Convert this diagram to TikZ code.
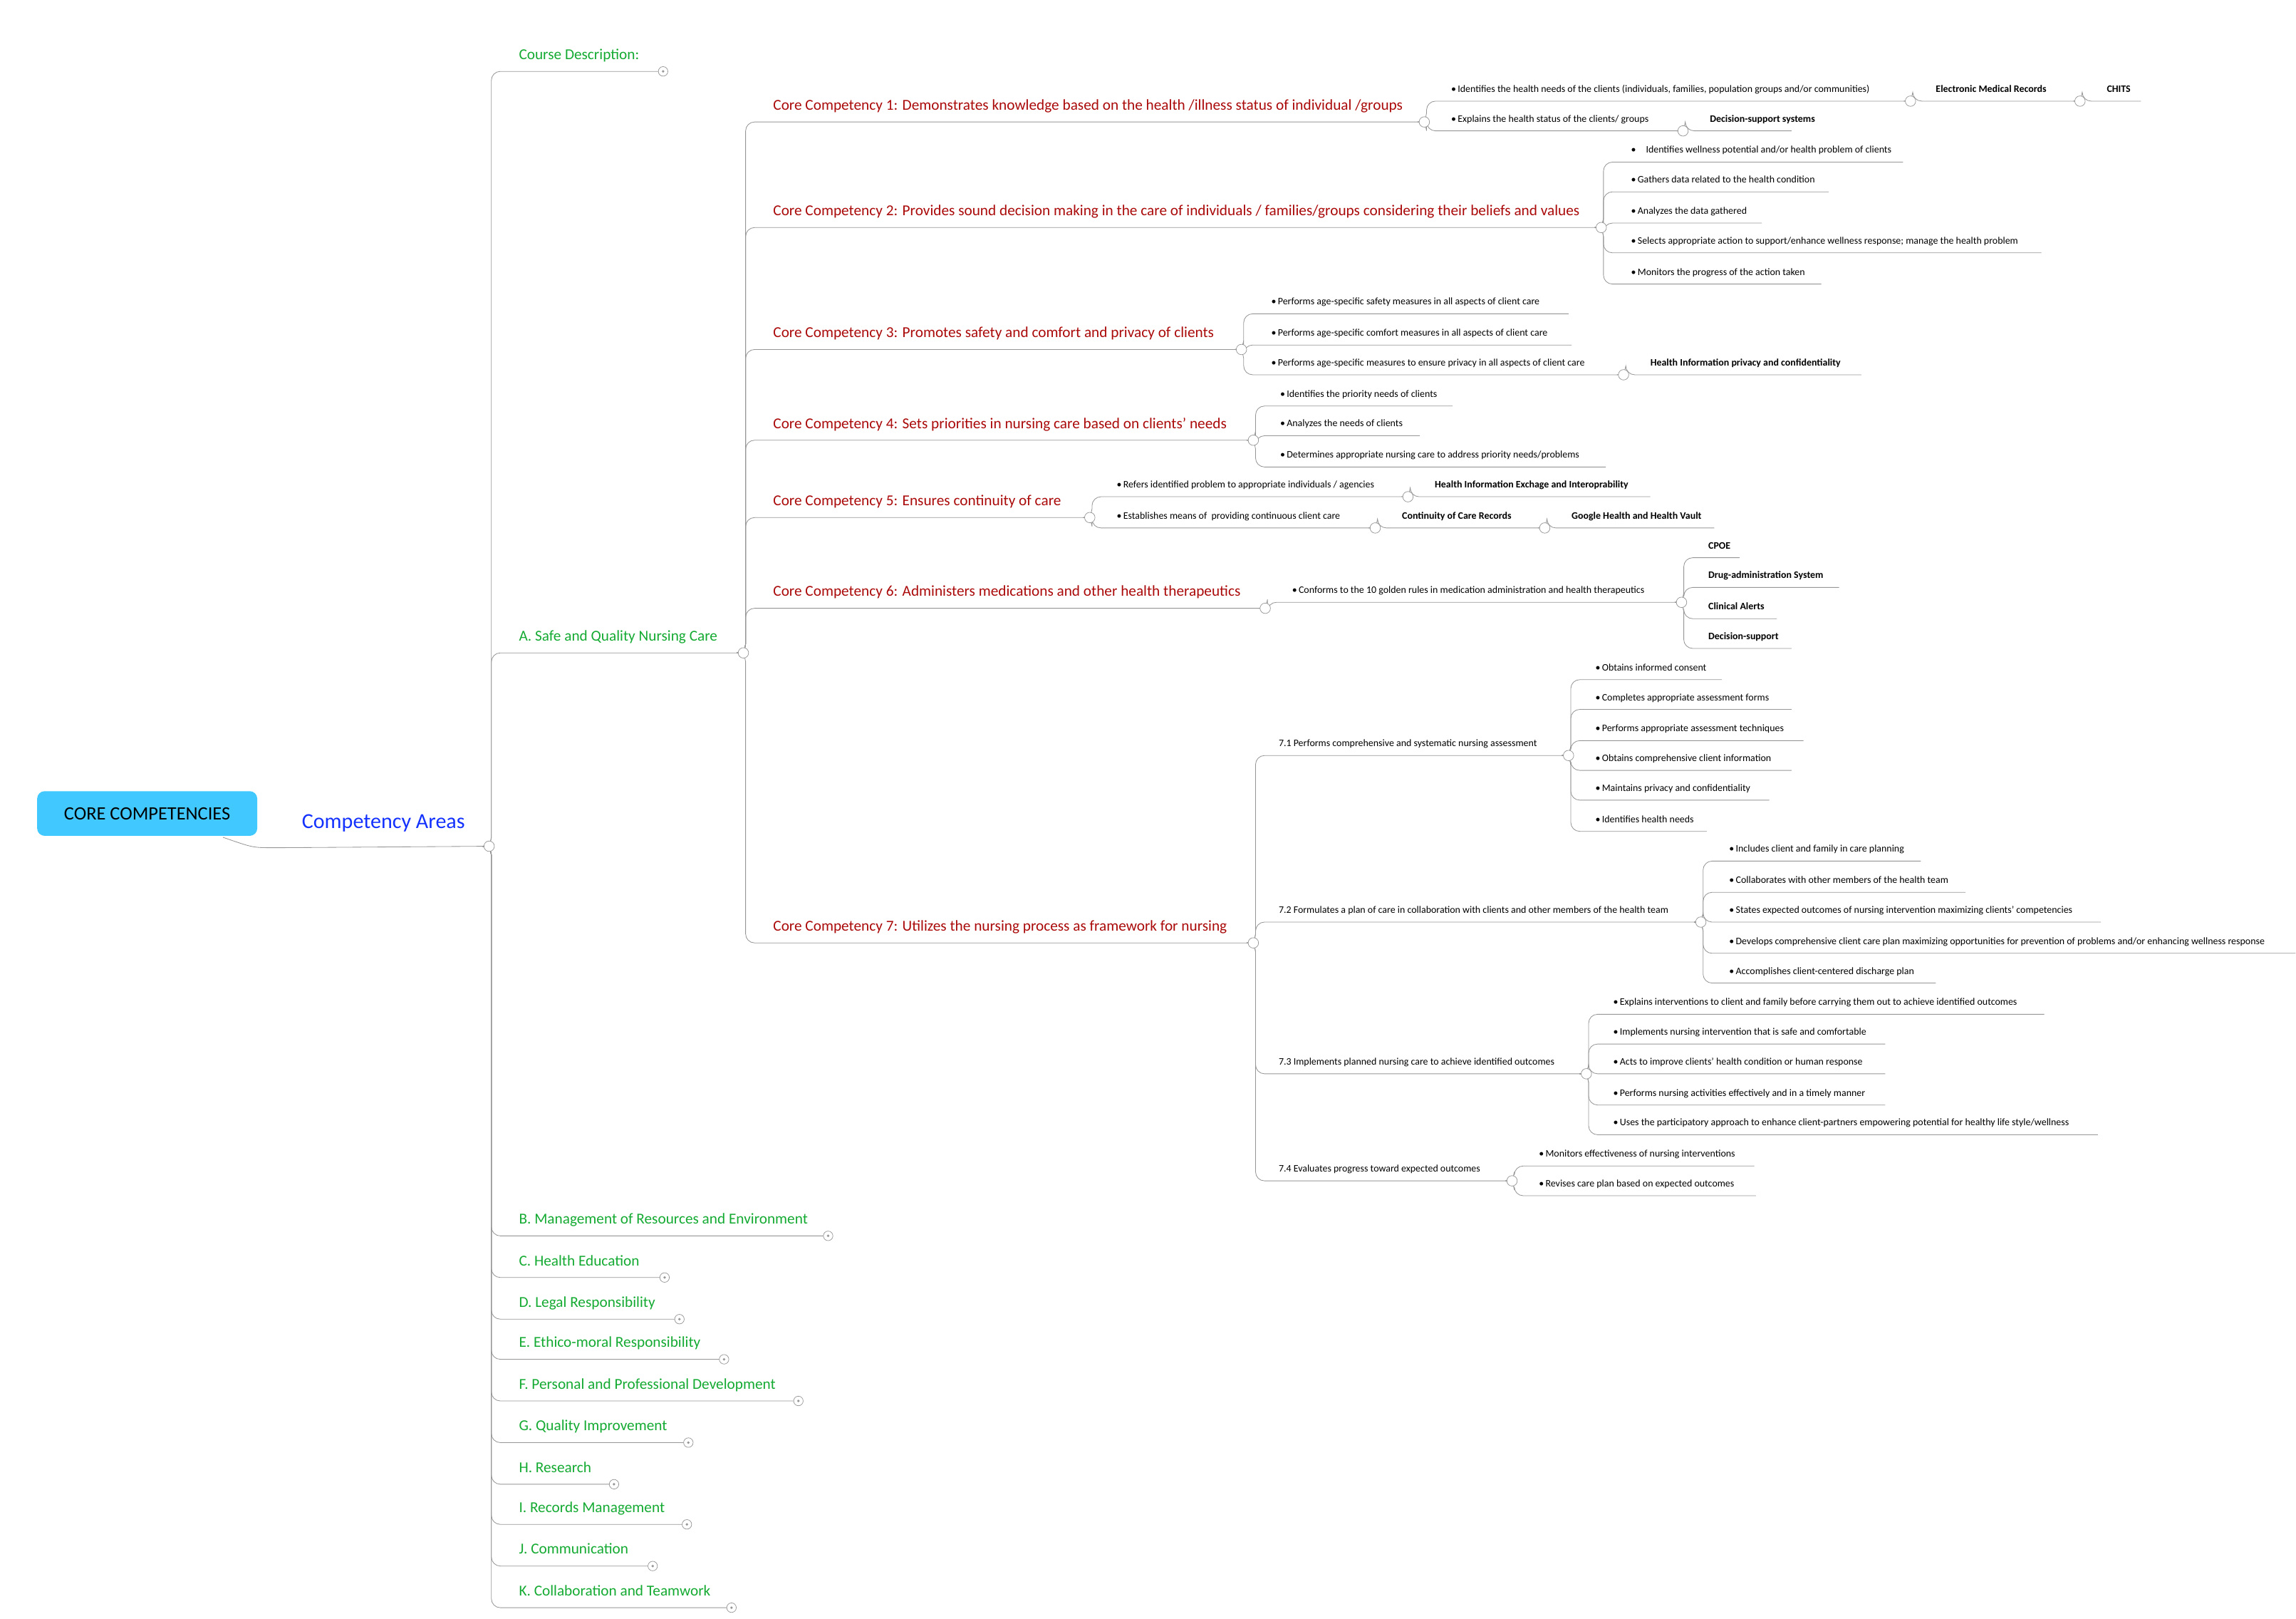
\documentclass[tikz,border=0pt]{standalone}
\usepackage{fontspec}
\setmainfont{Carlito}
\usepackage{tikz}
\usetikzlibrary{positioning}
\definecolor{linegray}{RGB}{150,150,150}
\definecolor{areagreen}{RGB}{20,170,50}
\definecolor{corered}{RGB}{170,10,10}
\definecolor{topblue}{RGB}{20,50,255}
\definecolor{rootcyan}{RGB}{64,200,255}
\newcommand{\twig}[7]{%
  \node[#6] (#2) at (#3,#4) {#7};
  \coordinate (#2-j) at (#5,#4);
  \draw[link] (#1) -- ++(1.5,0) |- (#2-j);
}
\begin{document}
\begin{tikzpicture}[x=1mm,y=-1mm,
  link/.style={draw=linegray,line width=0.4mm,rounded corners=6mm},
  knob/.style={draw=linegray,line width=0.35mm,fill=white},
  item/.style={anchor=base west,inner sep=0,yshift=6mm,font=\fontsize{19}{22}\selectfont},
  pick/.style={item,font=\fontsize{19}{22}\selectfont\bfseries},
  core/.style={anchor=base west,inner sep=0,yshift=8mm,text=corered,font=\fontsize{29}{33}\selectfont},
  area/.style={anchor=base west,inner sep=0,yshift=8mm,text=areagreen,font=\fontsize{29}{33}\selectfont}]
\useasboundingbox (0,0) rectangle (1544.3,1088.2);
% root
\node[fill=rootcyan,rounded corners=5mm,minimum width=148mm,minimum height=30mm,
  font=\fontsize{36}{40}\selectfont] (root) at (99,547) {CORE COMPETENCIES};
\coordinate (areas-j) at (329,569);
\node[anchor=base west,inner sep=0,text=topblue,font=\fontsize{41}{45}\selectfont] (areas) at (203,557) {Competency Areas};
\draw[link] (150,563) .. controls (170,570) .. (190,570) -- (areas-j);
% competency areas
\twig{areas-j}{desc}{349}{48}{446}{area}{Course Description:}
\twig{areas-j}{A}{349}{439}{500}{area}{A. Safe and Quality Nursing Care}
\twig{areas-j}{B}{349}{831}{557}{area}{B. Management of Resources and Environment}
\twig{areas-j}{C}{349}{859}{447}{area}{C. Health Education}
\twig{areas-j}{D}{349}{887}{457}{area}{D. Legal Responsibility}
\twig{areas-j}{E}{349}{914}{487}{area}{E. Ethico-moral Responsibility}
\twig{areas-j}{F}{349}{942}{537}{area}{F. Personal and Professional Development}
\twig{areas-j}{G}{349}{970}{463}{area}{G. Quality Improvement}
\twig{areas-j}{H}{349}{998}{413}{area}{H. Research}
\twig{areas-j}{I}{349}{1025}{462}{area}{I. Records Management}
\twig{areas-j}{J}{349}{1053}{439}{area}{J. Communication}
\twig{areas-j}{K}{349}{1081}{492}{area}{K. Collaboration and Teamwork}
% core competencies
\twig{A-j}{cc1}{520}{82}{958}{core}{Core Competency 1: Demonstrates knowledge based on the health /illness status of individual /groups}
\twig{A-j}{cc2}{520}{153}{1077}{core}{Core Competency 2: Provides sound decision making in the care of individuals / families/groups considering their beliefs and values}
\twig{A-j}{cc3}{520}{235}{835}{core}{Core Competency 3: Promotes safety and comfort and privacy of clients}
\twig{A-j}{cc4}{520}{296}{843}{core}{Core Competency 4: Sets priorities in nursing care based on clients' needs}
\twig{A-j}{cc5}{520}{348}{733}{core}{Core Competency 5: Ensures continuity of care}
\twig{A-j}{cc6}{520}{409}{851}{core}{Core Competency 6: Administers medications and other health therapeutics}
\twig{A-j}{cc7}{520}{634}{843}{core}{Core Competency 7: Utilizes the nursing process as framework for nursing}
% CC1
\twig{cc1-j}{a1}{976}{68}{1285}{item}{•\,Identifies the health needs of the clients (individuals, families, population groups and/or communities)}
\twig{a1-j}{emr}{1302}{68}{1399}{pick}{Electronic Medical Records}
\twig{emr-j}{chits}{1417}{68}{1440}{pick}{CHITS}
\twig{cc1-j}{a2}{976}{88}{1132}{item}{•\,Explains the health status of the clients/ groups}
\twig{a2-j}{dss}{1150}{88}{1205}{pick}{Decision-support systems}
% CC2
\twig{cc2-j}{b1}{1097}{109}{1280}{item}{•\quad Identifies wellness potential and/or health problem of clients}
\twig{cc2-j}{b2}{1097}{129}{1230}{item}{•\,Gathers data related to the health condition}
\twig{cc2-j}{b3}{1097}{150}{1185}{item}{•\,Analyzes the data gathered}
\twig{cc2-j}{b4}{1097}{170}{1373}{item}{•\,Selects appropriate action to support/enhance wellness response; manage the health problem}
\twig{cc2-j}{b5}{1097}{191}{1225}{item}{•\,Monitors the progress of the action taken}
% CC3
\twig{cc3-j}{c1}{855}{211}{1055}{item}{•\,Performs age-specific safety measures in all aspects of client care}
\twig{cc3-j}{c2}{855}{232}{1057}{item}{•\,Performs age-specific comfort measures in all aspects of client care}
\twig{cc3-j}{c3}{855}{252}{1092}{item}{•\,Performs age-specific measures to ensure privacy in all aspects of client care}
\twig{c3-j}{hip}{1110}{252}{1252}{pick}{Health Information privacy and confidentiality}
% CC4
\twig{cc4-j}{d1}{861}{273}{977}{item}{•\,Identifies the priority needs of clients}
\twig{cc4-j}{d2}{861}{293}{955}{item}{•\,Analyzes the needs of clients}
\twig{cc4-j}{d3}{861}{314}{1080}{item}{•\,Determines appropriate nursing care to address priority needs/problems}
% CC5
\twig{cc5-j}{e1}{751}{334}{947}{item}{•\,Refers identified problem to appropriate individuals / agencies}
\twig{e1-j}{hie}{965}{334}{1110}{pick}{Health Information Exchage and Interoprability}
\twig{cc5-j}{e2}{751}{355}{925}{item}{•\,Establishes means of \ providing continuous client care}
\twig{e2-j}{ccr}{943}{355}{1039}{pick}{Continuity of Care Records}
\twig{ccr-j}{ghv}{1057}{355}{1153}{pick}{Google Health and Health Vault}
% CC6
\twig{cc6-j}{f1}{869}{405}{1131}{item}{•\,Conforms to the 10 golden rules in medication administration and health therapeutics}
\twig{f1-j}{cpoe}{1149}{375}{1170}{pick}{CPOE}
\twig{f1-j}{das}{1149}{395}{1237}{pick}{Drug-administration System}
\twig{f1-j}{alerts}{1149}{416}{1195}{pick}{Clinical Alerts}
\twig{f1-j}{ds}{1149}{436}{1205}{pick}{Decision-support}
% CC7
\twig{cc7-j}{s1}{860}{508}{1055}{item}{7.1 Performs comprehensive and systematic nursing assessment}
\twig{s1-j}{s11}{1073}{457}{1158}{item}{•\,Obtains informed consent}
\twig{s1-j}{s12}{1073}{477}{1205}{item}{•\,Completes appropriate assessment forms}
\twig{s1-j}{s13}{1073}{498}{1213}{item}{•\,Performs appropriate assessment techniques}
\twig{s1-j}{s14}{1073}{518}{1205}{item}{•\,Obtains comprehensive client information}
\twig{s1-j}{s15}{1073}{538}{1190}{item}{•\,Maintains privacy and confidentiality}
\twig{s1-j}{s16}{1073}{559}{1148}{item}{•\,Identifies health needs}
\twig{cc7-j}{s2}{860}{620}{1144}{item}{7.2 Formulates a plan of care in collaboration with clients and other members of the health team}
\twig{s2-j}{s21}{1163}{579}{1292}{item}{•\,Includes client and family in care planning}
\twig{s2-j}{s22}{1163}{600}{1322}{item}{•\,Collaborates with other members of the health team}
\twig{s2-j}{s23}{1163}{620}{1413}{item}{•\,States expected outcomes of nursing intervention maximizing clients' competencies}
\twig{s2-j}{s24}{1163}{641}{1544}{item}{•\,Develops comprehensive client care plan maximizing opportunities for prevention of problems and/or enhancing wellness response}
\twig{s2-j}{s25}{1163}{661}{1302}{item}{•\,Accomplishes client-centered discharge plan}
\twig{cc7-j}{s3}{860}{722}{1067}{item}{7.3 Implements planned nursing care to achieve identified outcomes}
\twig{s3-j}{s31}{1085}{682}{1375}{item}{•\,Explains interventions to client and family before carrying them out to achieve identified outcomes}
\twig{s3-j}{s32}{1085}{702}{1268}{item}{•\,Implements nursing intervention that is safe and comfortable}
\twig{s3-j}{s33}{1085}{722}{1268}{item}{•\,Acts to improve clients' health condition or human response}
\twig{s3-j}{s34}{1085}{743}{1268}{item}{•\,Performs nursing activities effectively and in a timely manner}
\twig{s3-j}{s35}{1085}{763}{1411}{item}{•\,Uses the participatory approach to enhance client-partners empowering potential for healthy life style/wellness}
\twig{cc7-j}{s4}{860}{794}{1017}{item}{7.4 Evaluates progress toward expected outcomes}
\twig{s4-j}{s41}{1035}{784}{1180}{item}{•\,Monitors effectiveness of nursing interventions}
\twig{s4-j}{s42}{1035}{804}{1181}{item}{•\,Revises care plan based on expected outcomes}
% junction knobs
\foreach \j in {areas,A,cc1,cc2,cc3,cc4,cc5,cc6,cc7,a1,emr,a2,c3,e1,e2,ccr,f1,s1,s2,s3,s4}
  \draw[knob] (\j-j) circle (3.5mm);
% folded branches
\foreach \j in {desc,B,C,D,E,F,G,H,I,J,K}{
  \draw[knob] (\j-j) circle (3.2mm);
  \fill[linegray] (\j-j) circle (0.9mm);
}
\end{tikzpicture}
\end{document}
